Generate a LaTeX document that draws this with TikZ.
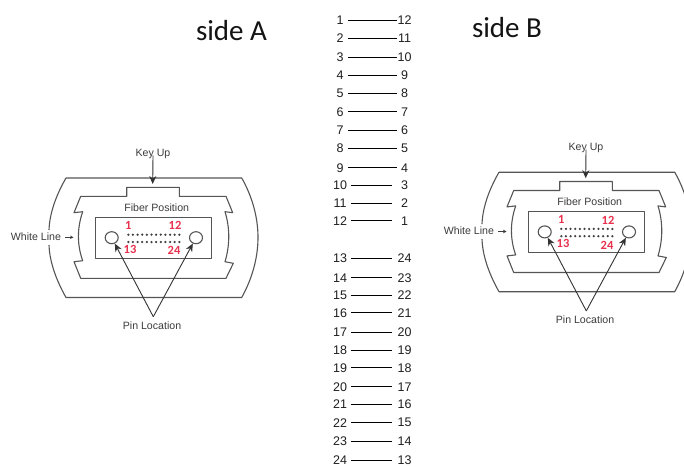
\documentclass[tikz,border=0pt]{standalone}
\usepackage{fontspec}
\setmainfont{Liberation Sans}
\newfontfamily\calfont{Carlito}
\usetikzlibrary{shapes.geometric,arrows.meta}
\definecolor{ln}{HTML}{555555}
\definecolor{tx}{HTML}{3C3C3C}
\definecolor{rd}{HTML}{E8324F}
\tikzset{
  body/.style={draw=ln,line width=1.1pt,line join=round},
  lbl/.style={inner sep=0pt,text=tx,font=\fontsize{10.6}{11}\selectfont},
  num/.style={inner sep=0pt,text=rd,font=\calfont\bfseries\fontsize{12.5}{13}\selectfont},
  hole/.style={draw=ln,line width=1.1pt,ellipse,minimum width=13pt,minimum height=12pt,inner sep=0pt},
  tip/.style={draw=black!80,line width=.9pt,-{Stealth[length=8pt,width=7pt]}},
  row/.style={inner sep=0pt,text=black!88,font=\fontsize{12.5}{12.5}\selectfont},
  wire/.style={draw=black,line width=1pt},
  title/.style={inner sep=0pt,anchor=base,text=black!92,font=\calfont\fontsize{29}{30}\selectfont}
}
\newcommand{\mpoconn}[3]{%
\begin{scope}[shift={(#2,#3)}]
  \draw[body] (66,178) -- (241.7,178) .. controls (252,196) and (258,217) .. (258,237.5) .. controls (258,258) and (252,279) .. (241.7,297.5) -- (66,297.5) .. controls (55,278) and (49.5,260) .. (49,245);
  \draw[body] (49,230) .. controls (49.5,215) and (55,197) .. (66,178);
  \draw[body] (126.7,196.3) -- (126.7,187.3) -- (179.3,187.3) -- (179.3,196.3) -- (226,196.3) -- (232.7,212.7) -- (225,211.7) .. controls (230,228) and (230,245) .. (225,261.7) -- (233.3,263.3) -- (226,278.3) -- (80.7,278.3) -- (74,261.7) -- (82.7,260.7) .. controls (77,245) and (77,228) .. (82.7,211.7) -- (74,212.7) -- (80.7,196.3) -- cycle;
  \draw[body] (95.7,217.3) rectangle (211.7,258.3);
  \node[hole] (#1holeL) at (111.7,237.7) {};
  \node[hole] (#1holeR) at (196,237.7) {};
  \foreach \i in {0,...,11} {
    \fill[black!75] (128.3+\i*4.64,234.7) circle (1.25);
    \fill[black!75] (128.3+\i*4.64,242) circle (1.25);
  }
  \node[num] (#1n1) at (128.3,225.7) {1};
  \node[num] (#1n12) at (175,225.7) {12};
  \node[num] (#1n13) at (130,249.3) {13};
  \node[num] (#1n24) at (174,250.7) {24};
  \node[lbl] (#1key) at (153,154) {Key Up};
  \coordinate (#1keyend) at (152.7,184);
  \draw[tip] (#1key.south) ++(0,-3.5) -- (#1keyend);
  \node[lbl] (#1fiber) at (156.7,207.3) {Fiber Position};
  \node[lbl] (#1white) at (36,237) {White Line};
  \coordinate (#1whiteend) at (73.5,237.3);
  \draw[draw=tx,line width=.7pt,-{Stealth[length=3.5pt,width=3.5pt]}] (#1white.east) ++(4,.3) -- (#1whiteend);
  \node[lbl] (#1pin) at (152,325.7) {Pin Location};
  \coordinate (#1apex) at (153.3,316.7);
  \draw[tip] (#1apex) -- (#1holeL);
  \draw[tip] (#1apex) -- (#1holeR);
\end{scope}}
\newcommand{\rowpair}[6]{%
  \node[row] (l#1) at (340,#3) {#1};
  \node[row] (r#1) at (404.5,#3) {#2};
  \draw[wire] ([xshift=#4pt]l#1.center) -- ([xshift=#5pt]r#1.center);
}
\begin{document}
\begin{tikzpicture}[x=1pt,y=-1pt]
\clip (0,0) rectangle (684,466);
\fill[white] (0,0) rectangle (684,466);
\mpoconn{a}{0}{0}
\mpoconn{b}{433}{-5.8}
\node[title] (sideA) at (231.5,40) {side A};
\node[title] (sideB) at (507,37.7) {side B};
\rowpair{1}{12}{20}{8}{-7.5}{}
\rowpair{2}{11}{38.3}{8}{-7.5}{}
\rowpair{3}{10}{57.3}{8}{-7.5}{}
\rowpair{4}{9}{75}{8}{-7.5}{}
\rowpair{5}{8}{93.3}{8}{-7.5}{}
\rowpair{6}{7}{111.7}{8}{-7.5}{}
\rowpair{7}{6}{130}{8}{-7.5}{}
\rowpair{8}{5}{148}{8}{-7.5}{}
\rowpair{9}{4}{167.7}{8}{-7.5}{}
\rowpair{10}{3}{185}{11}{-12.5}{}
\rowpair{11}{2}{203}{11}{-12.5}{}
\rowpair{12}{1}{220.7}{11}{-12.5}{}
\rowpair{13}{24}{258}{11}{-12.5}{}
\rowpair{14}{23}{277.7}{11}{-12.5}{}
\rowpair{15}{22}{295}{11}{-12.5}{}
\rowpair{16}{21}{312.7}{11}{-12.5}{}
\rowpair{17}{20}{332}{11}{-12.5}{}
\rowpair{18}{19}{350}{11}{-12.5}{}
\rowpair{19}{18}{367.7}{11}{-12.5}{}
\rowpair{20}{17}{386.7}{11}{-12.5}{}
\rowpair{21}{16}{404}{11}{-12.5}{}
\rowpair{22}{15}{422.7}{11}{-12.5}{}
\rowpair{23}{14}{441.3}{11}{-12.5}{}
\rowpair{24}{13}{460}{11}{-12.5}{}
\end{tikzpicture}
\end{document}
